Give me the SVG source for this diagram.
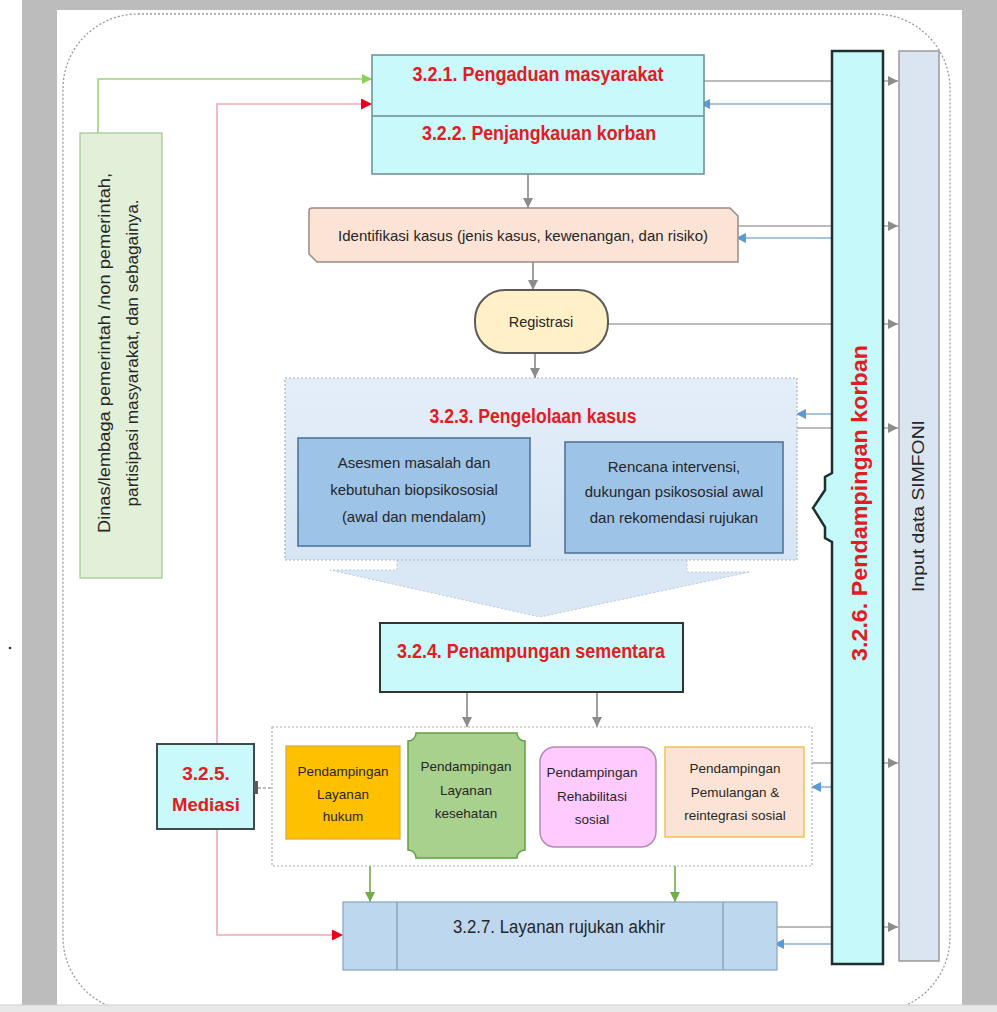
<svg xmlns="http://www.w3.org/2000/svg" width="997" height="1012" viewBox="0 0 997 1012">
<style>
text{font-family:"Liberation Sans",Arial,sans-serif}
.h{font-weight:bold;fill:#e31b23;text-anchor:middle}
.t{fill:#262626;text-anchor:middle}
.gl{stroke:#a6a6a6;stroke-width:1.5;fill:none}
.bl{stroke:#a9c3dd;stroke-width:2.2;fill:none}
.dl{stroke:#7f7f7f;stroke-width:1.5;fill:none}
.cy{fill:#c9f9fb}
.s13{font-size:13.5px}
</style>
<defs>
<marker id="mg" markerUnits="userSpaceOnUse" markerWidth="10" markerHeight="10" refX="10" refY="5" orient="auto"><path d="M0,0L10,5L0,10z" fill="#8c8c8c"/></marker>
<marker id="mb" markerUnits="userSpaceOnUse" markerWidth="10" markerHeight="10" refX="10" refY="5" orient="auto"><path d="M0,0L10,5L0,10z" fill="#5b9bd5"/></marker>
<marker id="mr" markerUnits="userSpaceOnUse" markerWidth="11" markerHeight="11" refX="11" refY="5.5" orient="auto"><path d="M0,0L11,5.5L0,11z" fill="#e8001c"/></marker>
<marker id="mgr" markerUnits="userSpaceOnUse" markerWidth="10" markerHeight="10" refX="10" refY="5" orient="auto"><path d="M0,0L10,5L0,10z" fill="#70ad47"/></marker>
<marker id="mlg" markerUnits="userSpaceOnUse" markerWidth="10" markerHeight="10" refX="10" refY="5" orient="auto"><path d="M0,0L10,5L0,10z" fill="#8fd05a"/></marker>
<linearGradient id="gb" x1="0" y1="0" x2="0" y2="1"><stop offset="0" stop-color="#e4eef9"/><stop offset="1" stop-color="#d6e5f4"/></linearGradient>
</defs>

<!-- page chrome -->
<rect x="0" y="0" width="997" height="1012" fill="#ffffff"/>
<rect x="22" y="0" width="975" height="1005" fill="#bcbcbc"/>
<rect x="57" y="10" width="905" height="995" fill="#ffffff"/>
<circle cx="10" cy="648" r="1.3" fill="#333"/>
<rect x="63" y="14" width="887" height="998" rx="75" ry="75" fill="none" stroke="#9a9a9a" stroke-width="1.3" stroke-dasharray="2 2"/>

<g id="connectors">
<path d="M98,133V79H372" stroke="#9fd37a" stroke-width="1.6" fill="none" marker-end="url(#mlg)"/>
<path d="M217,520V104H372" stroke="#f0a8b4" stroke-width="1.6" fill="none" marker-end="url(#mr)"/>
<path d="M217,520V935H343" stroke="#f0a8b4" stroke-width="1.6" fill="none" marker-end="url(#mr)"/>
<path class="dl" d="M528,174V208" marker-end="url(#mg)"/>
<path class="dl" d="M533,262V290" marker-end="url(#mg)"/>
<path class="dl" d="M535,353V378" marker-end="url(#mg)"/>
<path class="dl" d="M467,692V727" marker-end="url(#mg)"/>
<path class="dl" d="M597,692V727" marker-end="url(#mg)"/>
<path d="M370,866V902" stroke="#70ad47" stroke-width="1.6" fill="none" marker-end="url(#mgr)"/>
<path d="M675,866V902" stroke="#70ad47" stroke-width="1.6" fill="none" marker-end="url(#mgr)"/>
<path class="gl" d="M258,788H286" stroke-dasharray="3 2" marker-end="url(#mg)"/>
<path class="gl" d="M704,81H898" marker-end="url(#mg)"/>
<path class="gl" d="M738,226H898" marker-end="url(#mg)"/>
<path class="gl" d="M608,324H898" marker-end="url(#mg)"/>
<path class="gl" d="M797,428H898" marker-end="url(#mg)"/>
<path class="gl" d="M812,763H898" marker-end="url(#mg)"/>
<path class="gl" d="M777,927H898" marker-end="url(#mg)"/>
<path class="bl" d="M832,104H700" marker-end="url(#mb)"/>
<path class="bl" d="M832,238H736" marker-end="url(#mb)"/>
<path class="bl" d="M832,414H796" marker-end="url(#mb)"/>
<path class="bl" d="M832,787H811" marker-end="url(#mb)"/>
<path class="bl" d="M832,944H774" marker-end="url(#mb)"/>
</g>

<g id="dinas">
<rect x="80" y="133" width="82" height="445" fill="#e2efd9" stroke="#a8c896" stroke-width="1.3"/>
<text transform="translate(110,353) rotate(-90)" class="t" font-size="16" textLength="360" lengthAdjust="spacingAndGlyphs" fill="#333">Dinas/lembaga  pemerintah /non pemerintah,</text>
<text transform="translate(138,353) rotate(-90)" class="t" font-size="16" textLength="307" lengthAdjust="spacingAndGlyphs" fill="#333">partisipasi masyarakat, dan sebagainya.</text>
</g>

<g id="n321-322">
<rect class="cy" x="372" y="55" width="332" height="119" stroke="#6b8f90" stroke-width="1.5"/>
<line x1="372" y1="116" x2="704" y2="116" stroke="#6b8f90" stroke-width="1.5"/>
<text class="h" x="538" y="81" font-size="20" textLength="251" lengthAdjust="spacingAndGlyphs">3.2.1. Pengaduan masyarakat</text>
<text class="h" x="539" y="140" font-size="20" textLength="234" lengthAdjust="spacingAndGlyphs">3.2.2. Penjangkauan korban</text>
</g>

<g id="identifikasi">
<path d="M312,208H730L738,216V262H317L309,254V211Q309,208 312,208Z" fill="#fbe3d6" stroke="#9a8b85" stroke-width="1.5"/>
<text class="t" x="523" y="241" font-size="15" textLength="370">Identifikasi kasus (jenis kasus, kewenangan, dan risiko)</text>
</g>

<g id="registrasi">
<rect x="475" y="290" width="133" height="63" rx="30" ry="30" fill="#fff0c8" stroke="#5a5a5a" stroke-width="2"/>
<text class="t" x="541" y="327" font-size="14.5">Registrasi</text>
</g>

<g id="n323">
<path d="M397,556V570H330L540,617L750,572H687V556Z" fill="#dae7f4" stroke="#b9c9d9" stroke-width="1" stroke-dasharray="2 2"/>
<rect x="285" y="378" width="512" height="182" fill="url(#gb)" stroke="#a8b4c0" stroke-width="1.2" stroke-dasharray="2 2"/>
<text class="h" x="533" y="423" font-size="20" textLength="207" lengthAdjust="spacingAndGlyphs">3.2.3. Pengelolaan kasus</text>
<rect x="298" y="438" width="232" height="108" fill="#9dc3e6" stroke="#4a6f92" stroke-width="1.5"/>
<text class="t" x="414" y="468" font-size="15" fill="#1e2a36">Asesmen masalah dan</text>
<text class="t" x="414" y="495" font-size="15" fill="#1e2a36">kebutuhan  biopsikososial</text>
<text class="t" x="414" y="522" font-size="15" fill="#1e2a36">(awal dan mendalam)</text>
<rect x="565" y="442" width="218" height="111" fill="#9dc3e6" stroke="#4a6f92" stroke-width="1.5"/>
<text class="t" x="674" y="472" font-size="15" fill="#1e2a36">Rencana intervensi,</text>
<text class="t" x="674" y="497" font-size="15" fill="#1e2a36">dukungan psikososial awal</text>
<text class="t" x="674" y="523" font-size="15" fill="#1e2a36">dan rekomendasi rujukan</text>
</g>

<g id="n324">
<rect class="cy" x="380" y="623" width="303" height="69" stroke="#333" stroke-width="2"/>
<text class="h" x="531" y="658" font-size="20" textLength="268" lengthAdjust="spacingAndGlyphs">3.2.4. Penampungan sementara</text>
</g>

<g id="layanan">
<rect x="272" y="727" width="540" height="139" fill="#ffffff" stroke="#a8b0b8" stroke-width="1.2" stroke-dasharray="2 2"/>
<rect x="286" y="746" width="114" height="93" fill="#ffc000" stroke="#dcae3c" stroke-width="1.3"/>
<text class="t s13" x="343" y="776" fill="#40391a">Pendampingan</text>
<text class="t s13" x="343" y="799" fill="#40391a">Layanan</text>
<text class="t s13" x="343" y="821" fill="#40391a">hukum</text>
<path d="M416,733H517A8,8 0 0 0 525,741V850A8,8 0 0 0 517,858H416A8,8 0 0 0 408,850V741A8,8 0 0 0 416,733Z" fill="#a9d18e" stroke="#5fa040" stroke-width="1.5"/>
<text class="t s13" x="466" y="771" fill="#1f3d14">Pendampingan</text>
<text class="t s13" x="466" y="795" fill="#1f3d14">Layanan</text>
<text class="t s13" x="466" y="818" fill="#1f3d14">kesehatan</text>
<rect x="540" y="747" width="116" height="100" rx="15" ry="15" fill="#ffcbfe" stroke="#b48ab4" stroke-width="1.5"/>
<text class="t s13" x="592" y="777" fill="#7030a0">Pendampingan</text>
<text class="t s13" x="592" y="801" fill="#7030a0">Rehabilitasi</text>
<text class="t s13" x="592" y="824" fill="#7030a0">sosial</text>
<rect x="665" y="747" width="139" height="90" fill="#fbe4d5" stroke="#f0c152" stroke-width="1.5"/>
<text class="t s13" x="735" y="773" fill="#3a3a3a">Pendampingan</text>
<text class="t s13" x="735" y="797" fill="#3a3a3a">Pemulangan &amp;</text>
<text class="t s13" x="735" y="820" fill="#3a3a3a">reintegrasi sosial</text>
</g>

<g id="n325">
<rect class="cy" x="157" y="744" width="97" height="85" stroke="#3d4b4b" stroke-width="2"/>
<rect x="254" y="781" width="4" height="13" fill="#5a5a5a"/>
<text class="h" x="206" y="780" font-size="19">3.2.5.</text>
<text class="h" x="206" y="811" font-size="19" textLength="68" lengthAdjust="spacingAndGlyphs">Mediasi</text>
</g>

<g id="n327">
<rect x="343" y="902" width="434" height="68" fill="#bdd7ee" stroke="#8eaacc" stroke-width="1.3"/>
<line x1="397" y1="902" x2="397" y2="970" stroke="#7e98b8" stroke-width="1.2"/>
<line x1="723" y1="902" x2="723" y2="970" stroke="#7e98b8" stroke-width="1.2"/>
<text class="t" x="559" y="933" font-size="17.5" textLength="212" lengthAdjust="spacingAndGlyphs" fill="#1f2d3d">3.2.7. Layanan rujukan akhir</text>
</g>

<g id="n326">
<path d="M832,51H883V964H832V542L825,538V527L813,508L825,490V477L832,473Z" fill="#c6fafa" stroke="#1f3030" stroke-width="2.5"/>
<text class="h" transform="translate(867,503) rotate(-90)" font-size="22" textLength="316" lengthAdjust="spacingAndGlyphs">3.2.6. Pendampingan  korban</text>
</g>

<g id="simfoni">
<rect x="899" y="51" width="40" height="910" fill="#dbe5f1" stroke="#9a9a9a" stroke-width="1.5"/>
<text class="t" transform="translate(924,506) rotate(-90)" font-size="17" textLength="172" lengthAdjust="spacingAndGlyphs" fill="#333">Input data SIMFONI</text>
</g>

<rect x="0" y="1005" width="997" height="7" fill="#e8e8e8"/>
<line x1="0" y1="1005" x2="997" y2="1005" stroke="#cfcfcf" stroke-width="1"/>
</svg>
